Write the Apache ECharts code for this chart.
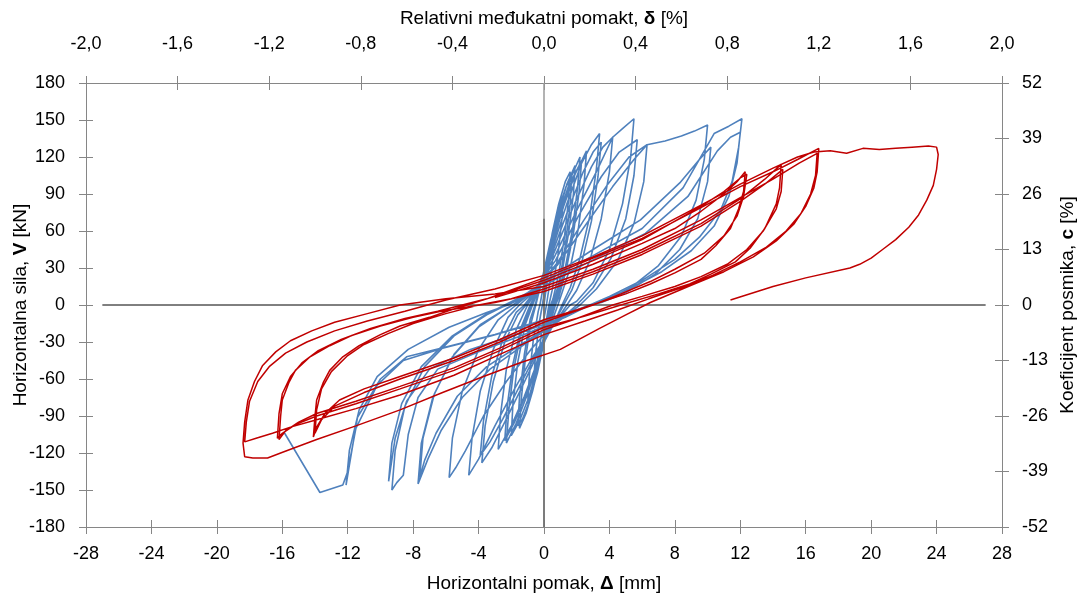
<!DOCTYPE html>
<html><head><meta charset="utf-8">
<script src="https://cdn.jsdelivr.net/npm/echarts@6/dist/echarts.min.js"></script>
<style>html,body{margin:0;padding:0;background:#fff}#c{width:1077px;height:599px}</style>
</head><body><div id="c"></div>
<script>
// Axis ranges / ticks
const xTicksMM = {min: -28, max: 28, interval: 4};
const xTicksDrift = {min: -2.0, max: 2.0, interval: 0.4};
const yTicksForce = {min: -180, max: 180, interval: 30};
const yTicksCoef = {min: -52, max: 52, interval: 13};

// Zero reference lines
const zeroLineH = [[-27, 0], [27, 0]];
const zeroLineV = [[0, -180], [0, 180]];
const zeroLineVDark = [[0, -180], [0, 70]];

// Specimen 1 (blue): [displacement mm, force kN]
const blueLoops = [
[0,0],
[0.2,20],[0.4,40],[0.6,55],[0.7,60],[0.6,45],[0.4,22],[0.15,0],[-0.1,-18],[-0.3,-38],[-0.5,-50],[-0.6,-55],[-0.5,-38],[-0.3,-15],[-0.1,0],
[0.2,25],[0.5,52],[0.8,72],[1.05,85],[1.2,90],[1.1,70],[0.85,40],[0.5,12],[0.3,0],[0.05,-20],[-0.3,-45],[-0.6,-63],[-0.85,-75],[-1.0,-80],[-0.9,-58],[-0.65,-28],[-0.35,-5],[-0.25,0],
[0.1,25],[0.5,58],[0.9,82],[1.3,100],[1.6,108],[1.5,85],[1.25,55],[0.9,25],[0.55,5],[0.4,0],[0.1,-22],[-0.3,-48],[-0.7,-70],[-1.1,-88],[-1.5,-100],[-1.4,-78],[-1.15,-45],[-0.8,-15],[-0.5,0],
[-0.1,22],[0.4,52],[0.9,78],[1.35,96],[1.7,105],[1.6,82],[1.3,48],[0.95,20],[0.6,3],[0.45,0],[0.1,-24],[-0.4,-55],[-0.9,-78],[-1.3,-92],[-1.6,-98],[-1.5,-75],[-1.2,-40],[-0.85,-12],[-0.55,0],
[-0.1,20],[0.4,48],[0.9,75],[1.4,98],[1.9,113],[1.8,90],[1.5,58],[1.1,26],[0.7,5],[0.55,0],[0.15,-22],[-0.4,-50],[-0.9,-74],[-1.5,-94],[-2.0,-106],[-1.9,-80],[-1.6,-46],[-1.15,-16],[-0.7,0],
[-0.1,20],[0.5,50],[1.1,80],[1.7,105],[2.2,120],[2.05,95],[1.75,62],[1.3,30],[0.85,8],[0.65,0],[0.2,-22],[-0.4,-48],[-1.0,-72],[-1.7,-96],[-2.3,-112],[-2.15,-85],[-1.85,-52],[-1.35,-20],[-0.8,0],
[-0.2,18],[0.4,46],[1.1,78],[1.8,104],[2.3,117],[2.15,92],[1.8,58],[1.35,28],[0.9,6],[0.7,0],[0.25,-20],[-0.4,-47],[-1.1,-72],[-1.8,-95],[-2.4,-110],[-2.25,-82],[-1.9,-48],[-1.4,-18],[-0.85,0],
[-0.2,17],[0.5,48],[1.2,80],[1.9,106],[2.6,125],[2.45,98],[2.1,62],[1.6,30],[1.05,8],[0.85,0],[0.3,-20],[-0.4,-46],[-1.2,-74],[-2.0,-98],[-2.8,-117],[-2.65,-88],[-2.3,-52],[-1.7,-20],[-1.0,0],
[-0.3,15],[0.5,45],[1.4,82],[2.3,115],[2.9,130],[3.4,139],[3.2,110],[2.8,72],[2.2,38],[1.6,14],[1.1,0],[0.5,-18],[-0.4,-40],[-1.4,-68],[-2.4,-95],[-3.2,-116],[-3.8,-128],[-3.6,-98],[-3.1,-62],[-2.4,-30],[-1.6,-8],[-1.1,0],
[-0.4,14],[0.5,42],[1.5,78],[2.4,108],[3.0,124],[3.5,132],[3.3,104],[2.9,68],[2.3,34],[1.7,12],[1.2,0],[0.5,-17],[-0.5,-40],[-1.5,-66],[-2.5,-92],[-3.3,-111],[-3.9,-122],[-3.7,-94],[-3.2,-58],[-2.5,-27],[-1.7,-6],[-1.2,0],
[-0.4,14],[0.6,42],[1.8,80],[2.9,112],[3.6,128],[4.2,136],[4.0,108],[3.5,70],[2.8,36],[2.0,12],[1.4,0],[0.6,-16],[-0.6,-40],[-1.8,-68],[-3.0,-98],[-4.0,-125],[-4.6,-138],[-4.4,-108],[-3.9,-70],[-3.1,-36],[-2.2,-10],[-1.5,0],
[-0.5,12],[0.6,38],[1.9,74],[3.2,108],[4.2,136],[4.8,143],[5.5,151],[5.3,120],[4.8,82],[4.0,45],[3.0,18],[2.0,3],[1.6,0],[0.7,-14],[-0.8,-36],[-2.3,-62],[-3.7,-90],[-4.8,-118],[-5.4,-132],[-5.8,-140],[-5.6,-108],[-5.0,-70],[-4.0,-36],[-2.8,-12],[-1.7,0],
[-0.6,12],[0.7,36],[2.1,72],[3.5,104],[4.6,124],[5.7,134],[5.5,105],[5.0,70],[4.1,38],[3.0,14],[2.0,0],[0.8,-14],[-1.2,-32],[-3.3,-52],[-5.0,-75],[-6.3,-102],[-7.1,-125],[-7.7,-145],[-7.5,-112],[-6.8,-75],[-5.6,-42],[-4.0,-18],[-2.3,-3],[-1.9,0],
[-0.7,10],[0.8,34],[2.4,68],[3.9,98],[5.2,120],[6.3,130],[6.1,100],[5.5,66],[4.5,36],[3.2,13],[2.2,0],[0.9,-13],[-1.3,-31],[-3.5,-50],[-5.3,-74],[-6.6,-104],[-7.3,-126],[-7.6,-140],[-7.4,-108],[-6.7,-72],[-5.5,-40],[-3.9,-16],[-2.2,-2],[-1.9,0],
[-0.8,10],[0.8,32],[2.5,64],[4.2,96],[5.5,118],[6.3,130],[7.4,133],[8.4,137],[9.2,141],[10.0,146],[9.8,118],[9.3,85],[8.4,56],[7.0,32],[5.3,14],[3.8,4],[2.8,0],[1.3,-10],[-1.2,-24],[-4.0,-38],[-6.5,-52],[-7.7,-75],[-8.3,-105],[-8.6,-138],[-9.0,-144],[-9.3,-150],[-9.1,-118],[-8.5,-82],[-7.3,-50],[-5.5,-25],[-3.5,-8],[-2.3,0],
[-1.0,10],[0.8,26],[3.0,45],[5.9,69],[8.3,99],[9.5,118],[10.2,128],[10.0,100],[9.4,70],[8.3,45],[6.8,25],[5.0,10],[3.5,2],[2.8,0],[1.2,-10],[-1.5,-23],[-4.5,-36],[-7.0,-52],[-8.4,-78],[-9.1,-108],[-9.5,-143],[-9.3,-112],[-8.7,-80],[-7.5,-50],[-5.6,-25],[-3.6,-8],[-2.4,0],
[-1.2,8],[0.5,22],[3.0,40],[6.0,62],[8.5,95],[10.4,139],[11.3,145],[12.1,151],[11.9,128],[11.5,100],[10.8,77],[9.5,55],[8.0,37],[6.0,20],[4.0,7],[2.8,0],[1.2,-8],[-0.5,-14],[-3.0,-24],[-6.0,-34],[-8.4,-42],[-10.0,-60],[-11.4,-91],[-11.9,-130],[-12.1,-146],[-11.9,-118],[-11.3,-85],[-10.2,-58],[-8.3,-36],[-5.8,-18],[-3.5,-6],[-2.2,0],
[-1.0,8],[0.6,20],[3.2,38],[6.2,58],[8.8,88],[10.6,125],[11.4,136],[12.0,140],[11.8,115],[11.3,88],[10.4,64],[9.0,44],[7.2,27],[5.2,13],[3.5,3],[2.8,0],[1.2,-9],[-0.6,-15],[-3.2,-25],[-6.2,-35],[-8.6,-45],[-10.2,-65],[-11.5,-100],[-12.0,-135],[-12.3,-146],[-13.0,-149],[-13.7,-152],[-15.9,-103]
];

// Specimen 2 (red): [displacement mm, force kN]
const redLoops = [
[-3,6],[0,18],[3,33],[6,50],[8,62],[9.6,76],[11,90],[11.8,100],[12.3,108],
[12.2,92],[11.9,78],[11.4,62],[10.5,48],[9.6,37],[8,26],[6.5,17],[5,9],[3.4,2],[2,-4],[0,-12],
[-2.7,-28],[-5.5,-43],[-8.8,-58],[-11,-68],[-12.5,-77],[-13.4,-88],[-13.9,-99],[-14.1,-107],
[-14.0,-90],[-13.9,-77],[-13.5,-63],[-13.1,-53],[-12.3,-42],[-11.3,-33],[-10,-24],[-8.8,-17],[-7,-10],[-5.7,-4],[-3,7],
[0,20],[3,36],[6,53],[9.6,80],[11,92],[12,103],[12.4,106],
[12.2,88],[11.8,72],[11,56],[9.8,42],[8,29],[6.5,19],[4.7,9],[3,0],[1.5,-7],[0,-14],
[-2.7,-30],[-5.5,-45],[-8.8,-60],[-11,-71],[-12.8,-82],[-13.6,-93],[-14.0,-104],
[-13.9,-85],[-13.6,-68],[-13.0,-54],[-12.0,-41],[-11,-32],[-9.5,-23],[-8,-15],[-6,-7],[-4,0],
[-2,5],[0,13],[3,27],[6,43],[9.6,66],[12,86],[13.5,102],[14.5,114],
[14.4,95],[14.2,82],[13.5,62],[12.6,46],[11.7,35],[10.2,25],[8.9,17],[7,9],[4.7,0],[2.5,-9],[0,-18],
[-2.7,-35],[-5.5,-51],[-8.8,-66],[-11.5,-78],[-13.9,-88],[-15.0,-95],[-15.8,-102],[-16.2,-109],
[-16.1,-90],[-16.0,-77],[-15.6,-63],[-15.2,-53],[-14.3,-42],[-13.1,-33],[-11.8,-25],[-10,-17],[-8,-10],[-6.3,-5],[-3,2],
[0,11],[3,25],[6,41],[9.6,64],[12,84],[13.6,99],[14.6,110],
[14.5,92],[14.2,78],[13.4,60],[12.4,45],[11.2,33],[9.6,23],[8,15],[6,7],[4.2,0],[2,-11],[0,-20],
[-2.7,-37],[-5.5,-53],[-8.8,-68],[-11.5,-80],[-13.9,-90],[-15.2,-97],[-16.0,-104],[-16.3,-108],
[-16.2,-88],[-16.0,-72],[-15.5,-58],[-14.8,-47],[-13.8,-37],[-12.4,-28],[-10.6,-19],[-8.5,-11],[-6.5,-5],[-3.5,5],
[0,22],[3,38],[6,54],[9.6,79],[12,96],[14,108],[15.5,118],[16.8,127],
[16.7,108],[16.5,95],[16.0,80],[15.3,66],[14.2,52],[12.8,39],[11,27],[9,16],[6.5,2],[5,-8],[3.4,-19],[1,-36],
[-1.5,-47],[-3.7,-58],[-6.2,-71],[-8.8,-85],[-11.5,-98],[-13.9,-109],[-15.9,-119],[-16.9,-124],[-17.8,-124],[-18.3,-123],
[-18.4,-112],[-18.3,-95],[-18.1,-77],[-17.7,-62],[-17.2,-49],[-16.4,-38],[-15.5,-29],[-14.2,-21],[-12.8,-14],[-10.8,-7],[-8.8,0],[-6,5],[-3,9],
[0,15],[3,29],[6,45],[9.6,69],[12,87],[14,102],[15.6,115],[16.7,123],
[16.6,105],[16.3,90],[15.7,74],[14.8,60],[13.6,47],[12,35],[10.3,24],[8.4,14],[6.4,5],[4.5,-4],[2.5,-13],[0,-24],
[-2.7,-40],[-5.5,-57],[-8.8,-73],[-11.5,-84],[-13.9,-93],[-15.5,-99],[-16.6,-104],[-17.6,-108],[-18.3,-111],
[-18.2,-95],[-18.0,-78],[-17.5,-62],[-16.8,-50],[-15.8,-39],[-14.5,-30],[-12.8,-21],[-10.8,-13],[-8.5,-5],[-6,4],[-3,13],
[0,24],[3,39],[6,56],[9.6,81],[12,98],[14,111],[15.5,120],[16.5,124],[17.5,125],[18.5,123],[19.5,127],[20.5,126],[21.5,127],[22.5,128],[23.5,129],[24,128],
[24.1,122],[24.0,110],[23.8,97],[23.4,85],[22.9,73],[22.3,63],[21.5,53],[20.7,45],[20,38],[19.3,33],[18.7,30],[16,22],[14,15],[11.4,4]
];

const FONT = '"Liberation Sans",Arial,sans-serif';
const AX = '#868686';
const fmtComma = v => v.toFixed(1).replace('.', ',');
const rich = {
  a: {fontFamily: FONT, fontSize: 19, color: '#000'},
  b: {fontFamily: FONT, fontSize: 19, color: '#000', fontWeight: 'bold'}
};
const lbl = {fontFamily: FONT, fontSize: 18, color: '#000'};
function valAxis(base, extra) {
  return Object.assign({
    type: 'value', min: base.min, max: base.max, interval: base.interval,
    splitLine: {show: false},
    axisLine: {show: true, onZero: false, lineStyle: {color: AX, width: 1}},
    axisTick: {show: true, inside: false, length: 7, lineStyle: {color: AX}},
    nameMoveOverlap: false
  }, extra);
}
function tickOnly(base, pos) {
  return {
    type: 'value', position: pos, min: base.min, max: base.max, interval: base.interval,
    splitLine: {show: false}, axisLabel: {show: false},
    axisLine: {show: false, onZero: false},
    axisTick: {show: true, inside: true, length: 7, lineStyle: {color: AX}}
  };
}

const option = {
  animation: false,
  backgroundColor: '#fff',
  grid: {left: 86, right: 75, top: 83, bottom: 72, containLabel: false, outerBoundsMode: 'none'},
  xAxis: [
    valAxis(xTicksMM, {position: 'bottom',
      axisLabel: Object.assign({margin: 18}, lbl),
      name: '{a|Horizontalni pomak, }{b|Δ}{a| [mm]}', nameLocation: 'middle', nameGap: 47,
      nameTextStyle: {rich}}),
    valAxis(xTicksDrift, {position: 'top',
      axisLabel: Object.assign({margin: 30, formatter: fmtComma}, lbl),
      name: '{a|Relativni međukatni pomakt, }{b|δ}{a| [%]}', nameLocation: 'middle', nameGap: 55,
      nameTextStyle: {rich}}),
    tickOnly(xTicksMM, 'bottom'),
    tickOnly(xTicksDrift, 'top')
  ],
  yAxis: [
    valAxis(yTicksForce, {position: 'left',
      axisLabel: Object.assign({margin: 21}, lbl),
      name: '{a|Horizontalna sila, }{b|V}{a| [kN]}', nameLocation: 'middle', nameGap: 56,
      nameTextStyle: {rich}}),
    valAxis(yTicksCoef, {position: 'right',
      axisLabel: Object.assign({margin: 20}, lbl),
      name: '{a|Koeficijent posmika, }{b|c}{a| [%]}', nameLocation: 'middle', nameGap: 56,
      nameTextStyle: {rich}}),
    tickOnly(yTicksForce, 'left'),
    tickOnly(yTicksCoef, 'right')
  ],
  series: [
    {type: 'line', name: 'blue', data: blueLoops, xAxisIndex: 0, yAxisIndex: 0, showSymbol: false, symbol: 'none',
      lineStyle: {color: '#4F81BD', width: 1.6}, z: 2},
    {type: 'line', data: zeroLineV, xAxisIndex: 0, yAxisIndex: 0, symbol: 'none', lineStyle: {color: '#9a9a9a', width: 1.5}, z: 3, silent: true},
    {type: 'line', data: zeroLineVDark, xAxisIndex: 0, yAxisIndex: 0, symbol: 'none', lineStyle: {color: '#6a6a6a', width: 1.5}, z: 3, silent: true},
    {type: 'line', data: zeroLineH, xAxisIndex: 0, yAxisIndex: 0, symbol: 'none', lineStyle: {color: '#000', width: 1}, z: 3, silent: true},
    {type: 'line', name: 'red', data: redLoops, xAxisIndex: 0, yAxisIndex: 0, showSymbol: false, symbol: 'none',
      lineStyle: {color: '#C00000', width: 1.5}, z: 4}
  ]
};
const chart = echarts.init(document.getElementById('c'), null, {renderer: 'canvas'});
chart.setOption(option);
</script>
</body></html>
